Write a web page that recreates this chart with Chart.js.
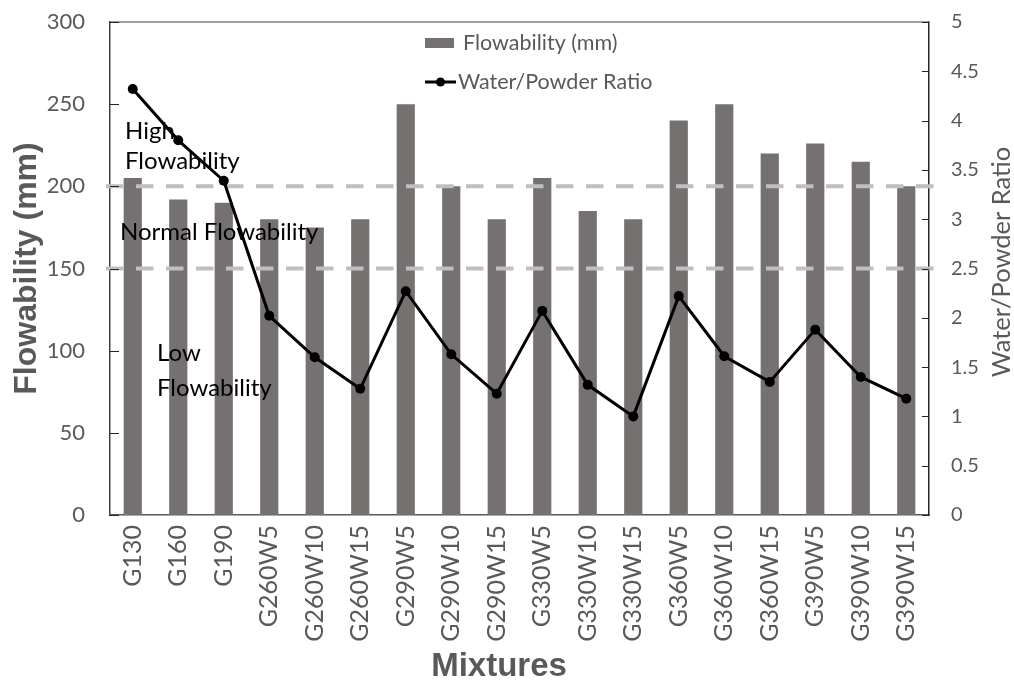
<!DOCTYPE html>
<html>
<head>
<meta charset="utf-8">
<script src="https://cdn.jsdelivr.net/npm/chart.js@4.4.1/dist/chart.umd.min.js"></script>
<style>
  html, body { margin: 0; padding: 0; background: #ffffff; }
  #wrap { width: 1014px; height: 683px; }
</style>
</head>
<body>
<div id="wrap"><canvas id="chart" width="1014" height="683"></canvas></div>
<script>
// Mixture designations along the category axis
const mixtures = ['G130', 'G160', 'G190', 'G260W5', 'G260W10', 'G260W15', 'G290W5', 'G290W10', 'G290W15',
  'G330W5', 'G330W10', 'G330W15', 'G360W5', 'G360W10', 'G360W15', 'G390W5', 'G390W10', 'G390W15'];

// Flow spread of each mixture (mm), left axis
const flowability = [205, 192, 190, 180, 175, 180, 250, 200, 180, 205, 185, 180, 240, 250, 220, 226, 215, 200];

// Water/powder ratio of each mixture, right axis
const waterPowder = [4.32, 3.80, 3.39, 2.02, 1.60, 1.28, 2.27, 1.63, 1.23, 2.07, 1.32, 1.00, 2.22, 1.61, 1.35, 1.88, 1.40, 1.18];

// Class boundaries for flowability (mm): high above 200, low below 150
const flowLimits = [200, 150];

// Axis ranges and steps
const flowAxis = { min: 0, max: 300, step: 50 };
const ratioAxis = { min: 0, max: 5, step: 0.5 };

const GREY_TEXT = '#595959';
const BAR_COLOR = '#767171';
const BODY_FONT = 'Lato, "Open Sans", sans-serif';
const TITLE_FONT = '"Liberation Sans", Arial, sans-serif';

const decorations = {
  id: 'decorations',
  // dashed class boundaries and class labels go above the bars but under the ratio line
  beforeDatasetDraw(chart, args) {
    if (chart.data.datasets[args.index].type !== 'line') return;
    const { ctx, chartArea, scales } = chart;
    const left = chartArea.left;
    ctx.save();
    ctx.strokeStyle = '#BFBFBF';
    ctx.lineWidth = 4;
    ctx.setLineDash([17.5, 12.5]);
    flowLimits.forEach((v, i) => {
      const y = scales.y.getPixelForValue(v);
      ctx.beginPath();
      ctx.moveTo(left - 4, y);
      ctx.lineTo(chartArea.right + (i === 0 ? 5 : 14), y);
      ctx.stroke();
    });

    ctx.fillStyle = '#000000';
    ctx.font = '24px ' + BODY_FONT;
    ctx.textAlign = 'left';
    ctx.textBaseline = 'middle';
    ctx.fillText('High', left + 15, 131);
    ctx.fillText('Flowability', left + 15, 161);
    ctx.fillText('Normal Flowability', left + 10, 232);
    ctx.fillText('Low', left + 47, 353);
    ctx.fillText('Flowability', left + 47, 388);
    ctx.restore();
  },
  afterDraw(chart) {
    const { ctx, chartArea, scales } = chart;
    const { left, right, top } = chartArea;
    ctx.save();

    // frame top edge
    ctx.strokeStyle = '#7F7F7F';
    ctx.lineWidth = 1.5;
    ctx.beginPath();
    ctx.moveTo(left, top);
    ctx.lineTo(right, top);
    ctx.stroke();

    // inward tick marks on both value axes
    ctx.strokeStyle = '#262626';
    ctx.lineWidth = 1;
    scales.y.ticks.forEach(t => {
      const y = Math.round(scales.y.getPixelForValue(t.value)) + 0.5;
      ctx.beginPath(); ctx.moveTo(left, y); ctx.lineTo(left + 9, y); ctx.stroke();
    });
    scales.y1.ticks.forEach(t => {
      const y = Math.round(scales.y1.getPixelForValue(t.value)) + 0.5;
      ctx.beginPath(); ctx.moveTo(right - 7, y); ctx.lineTo(right, y); ctx.stroke();
    });

    // legend inside the plot
    const lx = left + 315;
    ctx.fillStyle = BAR_COLOR;
    ctx.fillRect(lx, 38, 29, 10);
    ctx.font = '21.5px ' + BODY_FONT;
    ctx.fillStyle = GREY_TEXT;
    ctx.textAlign = 'left';
    ctx.textBaseline = 'middle';
    ctx.fillText('Flowability (mm)', lx + 38, 43);
    ctx.strokeStyle = '#000000';
    ctx.lineWidth = 3;
    ctx.beginPath(); ctx.moveTo(lx, 82); ctx.lineTo(lx + 31, 82); ctx.stroke();
    ctx.fillStyle = '#000000';
    ctx.beginPath(); ctx.arc(lx + 15.5, 82, 4.5, 0, Math.PI * 2); ctx.fill();
    ctx.fillStyle = GREY_TEXT;
    ctx.fillText('Water/Powder Ratio', lx + 33, 82);

    // right axis title, reading upward
    ctx.fillStyle = GREY_TEXT;
    ctx.font = '25.5px ' + BODY_FONT;
    ctx.textAlign = 'center';
    ctx.translate(1002, 262);
    ctx.rotate(-Math.PI / 2);
    ctx.fillText('Water/Powder Ratio', 0, 0);
    ctx.setTransform(1, 0, 0, 1, 0, 0);

    // category axis title
    ctx.font = 'bold 33px ' + TITLE_FONT;
    ctx.fillText('Mixtures', 499, 667);
    ctx.restore();
  }
};

// value axes keep their label gap without pushing the plot top down
function fitValueAxis(width) {
  return scale => {
    scale.width = width;
    scale.paddingTop = 0;
    scale.paddingBottom = 0;
  };
}

new Chart(document.getElementById('chart'), {
  data: {
    labels: mixtures,
    datasets: [
      {
        type: 'bar',
        label: 'Flowability (mm)',
        data: flowability,
        yAxisID: 'y',
        backgroundColor: BAR_COLOR,
        borderWidth: 0,
        barPercentage: 0.8,
        categoryPercentage: 0.5,
        order: 2
      },
      {
        type: 'line',
        label: 'Water/Powder Ratio',
        data: waterPowder,
        yAxisID: 'y1',
        borderColor: '#000000',
        backgroundColor: '#000000',
        borderWidth: 3,
        pointRadius: 5,
        pointBackgroundColor: '#000000',
        pointBorderWidth: 0,
        tension: 0,
        order: 1
      }
    ]
  },
  options: {
    responsive: false,
    animation: false,
    layout: { padding: { top: 22, left: 0, right: 0, bottom: 0 } },
    plugins: {
      legend: { display: false },
      tooltip: { enabled: false }
    },
    scales: {
      x: {
        grid: { display: false, drawTicks: false },
        border: { display: true, color: '#595959', width: 1.5 },
        ticks: {
          autoSkip: false,
          minRotation: 90,
          maxRotation: 90,
          padding: 10,
          color: GREY_TEXT,
          font: { family: BODY_FONT, size: 25 }
        },
        afterFit(scale) { scale.height = 168; }
      },
      y: {
        position: 'left',
        min: flowAxis.min,
        max: flowAxis.max,
        grid: { display: false, drawTicks: false },
        border: { display: true, color: '#404040', width: 1.5 },
        ticks: {
          stepSize: flowAxis.step,
          padding: 25,
          color: GREY_TEXT,
          font: { family: BODY_FONT, size: 22 }
        },
        title: {
          display: true,
          text: 'Flowability (mm)',
          color: GREY_TEXT,
          font: { family: TITLE_FONT, size: 32, weight: 'bold' },
          padding: { top: 8, bottom: 0 }
        },
        afterFit: fitValueAxis(110)
      },
      y1: {
        position: 'right',
        min: ratioAxis.min,
        max: ratioAxis.max,
        grid: { display: false, drawTicks: false },
        border: { display: true, color: '#262626', width: 1.5 },
        ticks: {
          stepSize: ratioAxis.step,
          padding: 22,
          color: GREY_TEXT,
          font: { family: BODY_FONT, size: 20 },
          callback: v => String(v)
        },
        afterFit: fitValueAxis(85)
      }
    }
  },
  plugins: [decorations]
});
</script>
</body>
</html>
